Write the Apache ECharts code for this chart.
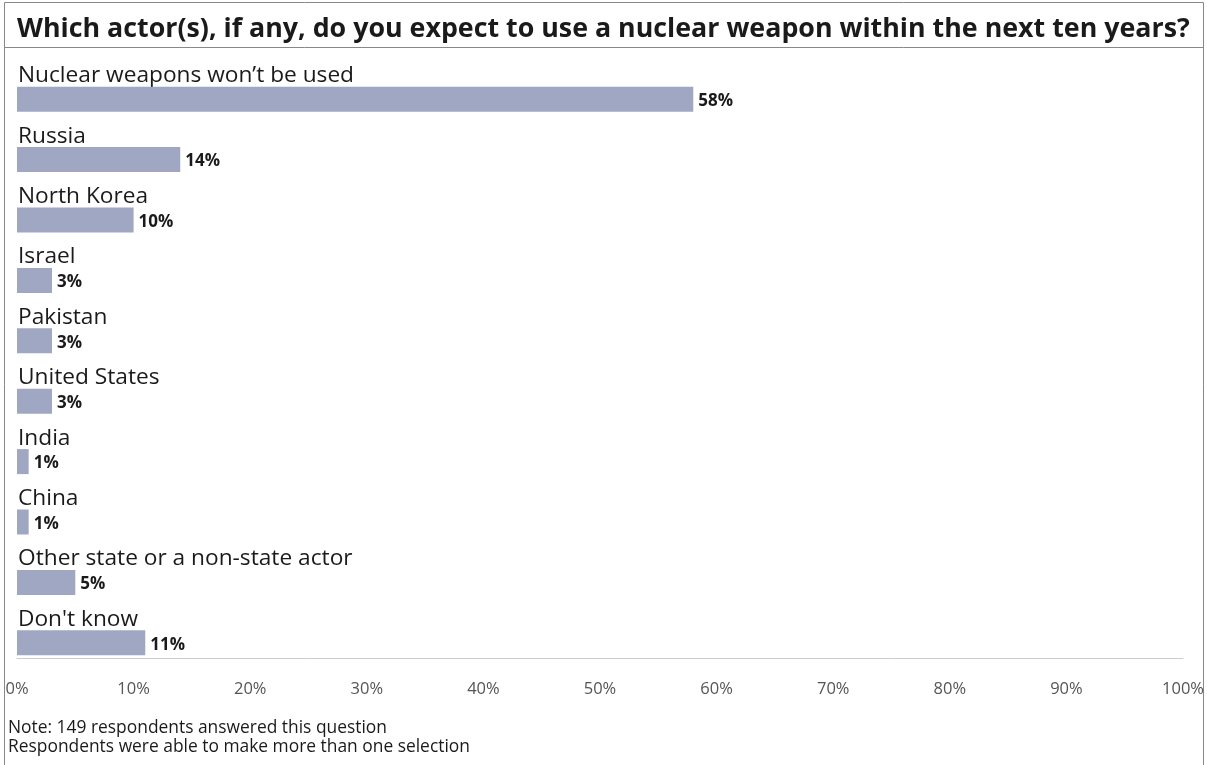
<!DOCTYPE html>
<html><head><meta charset="utf-8">
<script src="https://cdn.jsdelivr.net/npm/echarts@6/dist/echarts.min.js"></script>
<style>html,body{margin:0;padding:0;background:#fff}#c{width:1207px;height:765px}</style>
</head><body><div id="c"></div>
<script>
const titleText = "Which actor(s), if any, do you expect to use a nuclear weapon within the next ten years?";
const categories = ["Nuclear weapons won\u2019t be used","Russia","North Korea","Israel","Pakistan","United States","India","China","Other state or a non-state actor","Don't know"];
const values = [58,14,10,3,3,3,1,1,5,11];
const noteLines = ["Note: 149 respondents answered this question","Respondents were able to make more than one selection"];

const FONT = "'Open Sans', 'Noto Sans', sans-serif";
const chart = echarts.init(document.getElementById('c'), null, {renderer:'canvas'});
chart.setOption({
  animation:false,
  backgroundColor:'#fff',
  textStyle:{fontFamily:FONT},
  grid:{left:17, right:24, top:69, height:604, containLabel:false},
  xAxis:{type:'value', min:0, max:100, interval:10, position:'bottom', offset:-15,
    axisLine:{show:true, lineStyle:{color:'#cccccc', width:1}},
    axisTick:{show:false}, splitLine:{show:false},
    axisLabel:{margin:23, color:'#555', fontSize:16.5, fontFamily:FONT, formatter:'{value}%'}},
  yAxis:{type:'category', data:categories, inverse:true,
    axisLine:{show:false}, axisTick:{show:false}, splitLine:{show:false},
    axisLabel:{inside:true, margin:0, align:'left', verticalAlign:'bottom', padding:[0,0,12,1], color:'#1a1a1a', fontSize:22.7, fontFamily:FONT}},
  series:[{type:'bar', data:values, barWidth:25, itemStyle:{color:'#a0a7c2'},
    label:{show:true, position:'right', distance:5, offset:[0,2], formatter:'{c}%', fontWeight:'bold', fontSize:17, color:'#1a1a1a', fontFamily:FONT}}],
  graphic:[
    {type:'rect', shape:{x:4.5, y:2.5, width:1199, height:800}, style:{fill:'none', stroke:'#888', lineWidth:1}, silent:true},
    {type:'line', shape:{x1:4.5, y1:47.5, x2:1203.5, y2:47.5}, style:{stroke:'#888', lineWidth:1}, silent:true},
    {type:'text', x:17, y:29, style:{text:titleText, font:"bold 26.8px "+FONT, fill:'#1a1a1a', verticalAlign:'middle'}},
    {type:'text', x:8, y:728, style:{text:noteLines[0], font:"17.4px "+FONT, fill:'#1a1a1a', verticalAlign:'middle'}},
    {type:'text', x:8, y:747, style:{text:noteLines[1], font:"17.4px "+FONT, fill:'#1a1a1a', verticalAlign:'middle'}}
  ]
});
</script></body></html>
